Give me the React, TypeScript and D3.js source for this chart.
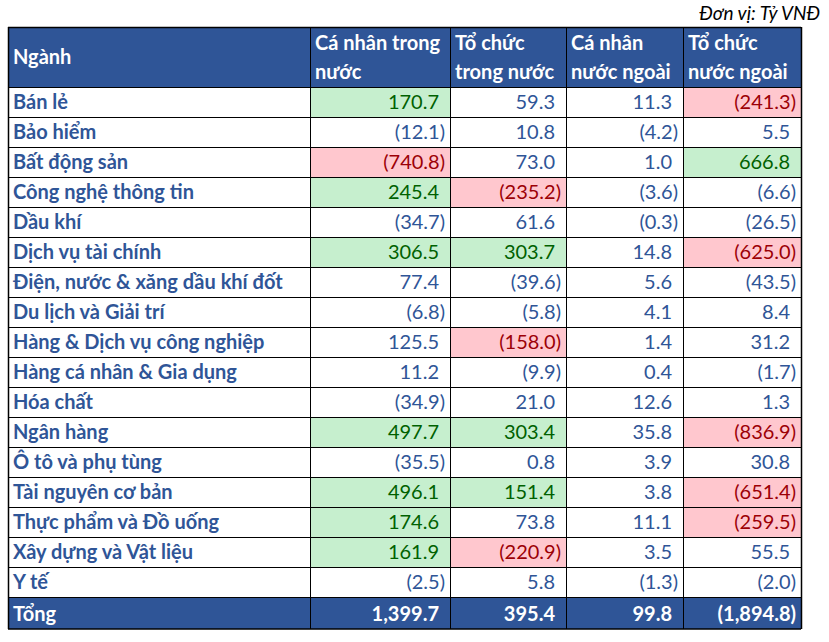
import React from "react";
import * as d3 from "d3";

const columns = ["Cá nhân trong|nước", "Tổ chức|trong nước", "Cá nhân|nước ngoài", "Tổ chức|nước ngoài"];
const sectors = [
  "Bán lẻ", "Bảo hiểm", "Bất động sản", "Công nghệ thông tin", "Dầu khí", "Dịch vụ tài chính",
  "Điện, nước & xăng dầu khí đốt", "Du lịch và Giải trí", "Hàng & Dịch vụ công nghiệp",
  "Hàng cá nhân & Gia dụng", "Hóa chất", "Ngân hàng", "Ô tô và phụ tùng", "Tài nguyên cơ bản",
  "Thực phẩm và Đồ uống", "Xây dựng và Vật liệu", "Y tế",
];
const caNhanTrongNuoc = [170.7, -12.1, -740.8, 245.4, -34.7, 306.5, 77.4, -6.8, 125.5, 11.2, -34.9, 497.7, -35.5, 496.1, 174.6, 161.9, -2.5];
const toChucTrongNuoc = [59.3, 10.8, 73.0, -235.2, 61.6, 303.7, -39.6, -5.8, -158.0, -9.9, 21.0, 303.4, 0.8, 151.4, 73.8, -220.9, 5.8];
const caNhanNuocNgoai = [11.3, -4.2, 1.0, -3.6, -0.3, 14.8, 5.6, 4.1, 1.4, 0.4, 12.6, 35.8, 3.9, 3.8, 11.1, 3.5, -1.3];
const toChucNuocNgoai = [-241.3, 5.5, 666.8, -6.6, -26.5, -625.0, -43.5, 8.4, 31.2, -1.7, 1.3, -836.9, 30.8, -651.4, -259.5, 55.5, -2.0];
const totals = [1399.7, 395.4, 99.8, -1894.8];
// highlight: "g" green, "r" red, "" none
const highlights = [
  ["g", "", "", "r"], ["", "", "", ""], ["r", "", "", "g"], ["g", "r", "", ""], ["", "", "", ""],
  ["g", "g", "", "r"], ["", "", "", ""], ["", "", "", ""], ["", "r", "", ""], ["", "", "", ""],
  ["", "", "", ""], ["g", "g", "", "r"], ["", "", "", ""], ["g", "g", "", "r"], ["g", "", "", "r"],
  ["g", "r", "", ""], ["", "", "", ""],
];
const unitLabel = "Đơn vị: Tỷ VNĐ";
const headerFirst = "Ngành";
const totalLabel = "Tổng";

const series = [caNhanTrongNuoc, toChucTrongNuoc, caNhanNuocNgoai, toChucNuocNgoai];

const W = 829, H = 642;
const FONT = "Lato, 'Noto Sans', sans-serif";
const HEADER_BG = "#2F5597";
const BLUE = "#2F5597";
const fmtNum = d3.format(",.1f");
const fmt = (v: number) => (v < 0 ? `(${fmtNum(-v)})` : fmtNum(v));

export default function App() {
  const x = d3.scaleOrdinal<number, number>().domain([0, 1, 2, 3, 4, 5]).range([8, 310, 450, 566, 683, 801]);
  const headerTop = 27, headerBottom = 87;
  const y = d3.scaleBand<number>().domain(d3.range(sectors.length)).range([headerBottom, headerBottom + 30 * sectors.length]);
  const totalTop = headerBottom + 30 * sectors.length;
  const totalBottom = totalTop + 32;
  const fs = 20;
  const fill = (h: string) => (h === "g" ? "#C6EFCE" : h === "r" ? "#FFC7CE" : "#fff");
  const color = (h: string) => (h === "g" ? "#006100" : h === "r" ? "#9C0006" : BLUE);
  return (
    <svg width={W} height={H} style={{ display: "block", position: "absolute", left: 0, top: 0 }} fontFamily={FONT}>
      <rect width={W} height={H} fill="#fff" />
      <text x={820} y={20} textAnchor="end" fontSize={19} fontStyle="italic" fill="#000">{unitLabel}</text>
      {/* header */}
      <rect x={x(0)} y={headerTop} width={x(5) - x(0)} height={headerBottom - headerTop} fill={HEADER_BG} />
      <text x={x(0) + 5} y={(headerTop + headerBottom) / 2 + 7} fontSize={fs} fontWeight="bold" fill="#fff">{headerFirst}</text>
      {columns.map((c, i) => {
        const lines = c.split("|");
        return lines.map((l, k) => (
          <text key={`${i}-${k}`} x={x(i + 1) + 5} y={headerTop + 23 + k * 29} fontSize={fs} fontWeight="bold" fill="#fff">{l}</text>
        ));
      })}
      {/* body */}
      {sectors.map((s, r) => {
        const yy = y(r)!;
        return (
          <g key={s}>
            <text x={x(0) + 5} y={yy + 22} fontSize={fs} fontWeight="bold" fill={BLUE}>{s}</text>
            {series.map((arr, c) => {
              const h = highlights[r][c];
              const v = arr[r];
              return (
                <g key={c}>
                  <rect x={x(c + 1)} y={yy} width={x(c + 2) - x(c + 1)} height={y.bandwidth()} fill={fill(h)} />
                  <text x={x(c + 2) - (v < 0 ? 5 : 11)} y={yy + 22} textAnchor="end" fontSize={fs} fill={color(h)}>{fmt(v)}</text>
                </g>
              );
            })}
          </g>
        );
      })}
      {/* total */}
      <rect x={x(0)} y={totalTop} width={x(5) - x(0)} height={totalBottom - totalTop} fill={HEADER_BG} />
      <text x={x(0) + 5} y={totalTop + 24} fontSize={fs} fontWeight="bold" fill="#fff">{totalLabel}</text>
      {totals.map((v, c) => (
        <text key={c} x={x(c + 2) - (v < 0 ? 5 : 11)} y={totalTop + 24} textAnchor="end" fontSize={fs} fontWeight="bold" fill="#fff">{fmt(v)}</text>
      ))}
      {/* grid lines */}
      {d3.range(sectors.length + 1).map((r) => {
        const yy = headerBottom + 30 * r;
        return <line key={`h${r}`} x1={x(0)} x2={x(5)} y1={yy + 0.5} y2={yy + 0.5} stroke="#000" strokeWidth={1} />;
      })}
      <line x1={x(0)} x2={x(5)} y1={headerTop + 0.5} y2={headerTop + 0.5} stroke="#000" strokeWidth={1.5} />
      <line x1={x(0)} x2={x(5)} y1={totalBottom} y2={totalBottom} stroke="#000" strokeWidth={1.5} />
      {[0, 1, 2, 3, 4, 5].map((c) => (
        <line key={`v${c}`} x1={x(c) + 0.5} x2={x(c) + 0.5} y1={headerTop} y2={totalBottom} stroke="#000" strokeWidth={c === 0 || c === 5 ? 1.5 : 1} />
      ))}
    </svg>
  );
}
